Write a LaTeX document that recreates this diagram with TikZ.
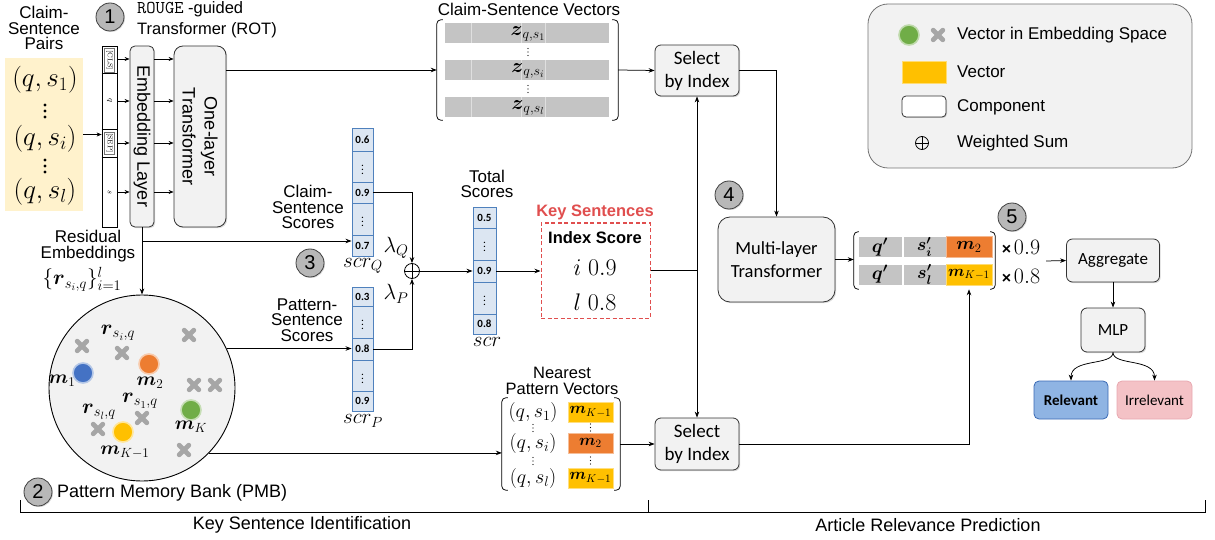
\RequirePackage{fix-cm}
\documentclass[tikz,border=0pt]{standalone}
\usepackage{amsmath}
\usepackage[no-math]{fontspec}
\setmainfont{Liberation Sans}
\newfontfamily\calib{Carlito}
\usetikzlibrary{arrows.meta,shadows}
\definecolor{compfill}{HTML}{F2F2F2}
\definecolor{pairfill}{HTML}{FFF2CC}
\definecolor{vecgray}{HTML}{C4C4C4}
\definecolor{scfill}{HTML}{DCE6F2}
\definecolor{scdraw}{HTML}{4F81BD}
\definecolor{mblue}{HTML}{4472C4}
\definecolor{morange}{HTML}{ED7D31}
\definecolor{mgreen}{HTML}{70AD47}
\definecolor{myellow}{HTML}{FFC000}
\definecolor{keyred}{HTML}{E04E4E}
\definecolor{relblue}{HTML}{8FB4E3}
\definecolor{relborder}{HTML}{3A6AB5}
\definecolor{irrfill}{HTML}{F4C2C6}
\definecolor{irrborder}{HTML}{E8A8B0}
\definecolor{crossgray}{HTML}{A6A6A6}
\newcommand{\fsz}[2]{\fontsize{#1}{#2}\selectfont}
\begin{document}
\begin{tikzpicture}[x=1pt,y=-1pt,
 comp/.style={draw=black!80, fill=compfill, rounded corners=6pt, line width=0.8pt, inner sep=0pt, drop shadow={shadow xshift=1.2pt, shadow yshift=-1.2pt, opacity=0.3}},
 arr/.style={-{Stealth[length=6pt,width=4.5pt]}, line width=0.75pt},
 sarr/.style={-{Stealth[length=5pt,width=4pt]}, line width=0.7pt},
 ln/.style={line width=0.75pt},
 lab/.style={font=\fsz{17}{15.5}, align=center, inner sep=0pt},
 cal/.style={font=\calib\fsz{19}{23}, align=center},
 sc/.style={draw=scdraw, fill=scfill, line width=0.9pt, minimum width=21pt, inner sep=0pt, font=\calib\bfseries\fsz{11}{11}},
 numc/.style={circle, draw=black!75, fill=black!28, line width=0.8pt, minimum size=28pt, inner sep=0pt, font=\fsz{20}{20}, drop shadow={shadow xshift=1pt, shadow yshift=-1pt, opacity=0.3}},
 embpt/.style={circle, minimum size=20pt, inner sep=0pt, line width=1.6pt},
 gcell/.style={fill=vecgray, draw=white, line width=0.6pt, inner sep=0pt, minimum height=21pt},
 brk/.style={line width=0.75pt, rounded corners=4pt},
 osumst/.style={circle, draw, line width=0.8pt, minimum size=15pt, inner sep=0pt, path picture={\draw[line width=0.8pt] (path picture bounding box.north) -- (path picture bounding box.south) (path picture bounding box.west) -- (path picture bounding box.east);}},
 xcross/.pic={\draw[crossgray, line width=4.8pt, line cap=round] (-4.8,-4.8) -- (4.8,4.8) (-4.8,4.8) -- (4.8,-4.8);},
 bigdots/.pic={\fill (0,-6) circle (1.7pt) (0,0) circle (1.7pt) (0,6) circle (1.7pt);},
 smalldots/.pic={\fill (0,-3.5) circle (0.65pt) (0,0) circle (0.65pt) (0,3.5) circle (0.65pt);},
 mlab/.style={inner sep=0pt, font=\fsz{21}{21}},
]
\useasboundingbox (0,0) rectangle (1215,540);

%% ---------- left input ----------
\node[lab] (cspairs) at (44,28) {Claim-\\Sentence\\Pairs};
\node[fill=pairfill, minimum width=78pt, minimum height=153pt, inner sep=0pt] (pairs) at (44,134.5) {};
\node[inner sep=0pt, font=\fsz{27}{27}] (p1) at (45,80) {$(q,s_1)$};
\pic at (45,111) {bigdots};
\node[inner sep=0pt, font=\fsz{27}{27}] (p2) at (45,139) {$(q,s_i)$};
\pic at (45,166) {bigdots};
\node[inner sep=0pt, font=\fsz{27}{27}] (p3) at (45,192) {$(q,s_l)$};

\node[draw, fill=white, line width=0.7pt, minimum width=15pt, minimum height=181pt, inner sep=0pt] (strip) at (109.5,136.5) {};
\draw[line width=0.6pt] (strip.west |- 0,73) -- (strip.east |- 0,73);
\draw[line width=0.6pt] (strip.west |- 0,129) -- (strip.east |- 0,129);
\draw[line width=0.6pt] (strip.west |- 0,157) -- (strip.east |- 0,157);
\node[draw=black!55, line width=0.4pt, minimum width=10pt, minimum height=24pt, inner sep=0pt] (clsb) at (109.5,60) {};
\node[rotate=-90, inner sep=0pt, font=\fsz{7}{7}] (clst) at (clsb) {$\mathrm{[CLS]}$};
\node[draw=black!55, line width=0.4pt, minimum width=10pt, minimum height=22pt, inner sep=0pt] (sepb) at (109.5,143) {};
\node[rotate=-90, inner sep=0pt, font=\fsz{7}{7}] (sept) at (sepb) {$\mathrm{[SEP]}$};
\node[rotate=-90, inner sep=0pt, font=\fsz{8}{8}] (qt) at (109.5,101) {$q$};
\node[rotate=-90, inner sep=0pt, font=\fsz{8}{8}] (st) at (109.5,192) {$s$};
\draw[sarr] (pairs.east) -- (pairs.east -| strip.west);

\node[comp, rounded corners=5pt, minimum width=24pt, minimum height=181pt] (emb) at (142,136.5) {};
\node[rotate=-90, lab, font=\fsz{18}{18}] (embt) at (emb) {Embedding Layer};
\node[comp, rounded corners=9pt, minimum width=52pt, minimum height=181pt] (ot) at (200,136.5) {};
\node[rotate=-90, lab, font=\fsz{18}{22}] (ott) at (ot) {One-layer\\Transformer};
\foreach \yy in {59,101,143,192} {
  \draw[sarr] (strip.east |- 0,\yy) -- (emb.west |- 0,\yy);
  \draw[sarr] (emb.east |- 0,\yy) -- (ot.west |- 0,\yy);
}

\node[numc] (n1) at (110,17) {1};
\node[anchor=west, align=left, inner sep=0pt, font=\fsz{16.5}{21}] (rot) at (137,19.5) {{\fsz{18}{21}\texttt{ROUGE}} -guided\\Transformer (ROT)};

%% ---------- claim-sentence vectors ----------
\node[lab] (csvt) at (529,9) {Claim-Sentence Vectors};
\node[minimum width=181pt, minimum height=100pt, inner sep=0pt] (csv) at (527.5,70) {};
\draw[brk] ([xshift=6pt]csv.north west) -- (csv.north west) -- (csv.south west) -- ([xshift=6pt]csv.south west);
\draw[brk] ([xshift=-6pt]csv.north east) -- (csv.north east) -- (csv.south east) -- ([xshift=-6pt]csv.south east);
\foreach \nm/\yc in {zb1/33, zb2/70.5, zb3/107} {
  \node[fill=vecgray, minimum width=164pt, minimum height=20pt, inner sep=0pt] (\nm) at (527,\yc) {};
  \foreach \xx in {471,521,545} \draw[white!75!gray, line width=0.8pt] (\xx,\yc-10) -- (\xx,\yc+10);
}
\node[mlab, font=\fsz{20}{20}] (zl1) at (528,34) {$\boldsymbol{z}_{q,s_1}$};
\node[mlab, font=\fsz{20}{20}] (zl2) at (528,71) {$\boldsymbol{z}_{q,s_i}$};
\node[mlab, font=\fsz{20}{20}] (zl3) at (528,107.5) {$\boldsymbol{z}_{q,s_l}$};
\pic at (528,52) {smalldots};
\pic at (528,89) {smalldots};
\draw[arr] (ot.east |- csv.west) -- (csv.west);

%% ---------- select by index ----------
\node[comp, minimum width=84pt, minimum height=51pt, cal] (sel1) at (697,70.5) {Select\\by Index};
\draw[arr] (csv.east) -- (sel1.west);
\node[comp, minimum width=84pt, minimum height=52pt, cal] (sel2) at (697,444) {Select\\by Index};

%% ---------- legend ----------
\node[draw=black!55, fill=compfill, rounded corners=20pt, line width=0.8pt, minimum width=324pt, minimum height=164pt] (leg) at (1030,86) {};
\node[embpt, fill=mgreen, draw=mgreen!45] (lg1) at (909,35) {};
\pic at (938,35) {xcross};
\node[lab, anchor=west] (lt1) at (957,35) {Vector in Embedding Space};
\node[fill=myellow, draw=myellow!55, line width=0.8pt, minimum width=44pt, minimum height=22pt, inner sep=0pt] (lg2) at (924,72) {};
\node[lab, anchor=west] (lt2) at (957,72) {Vector};
\node[draw=black!80, fill=white, rounded corners=4pt, line width=0.8pt, minimum width=44pt, minimum height=21pt, inner sep=0pt, drop shadow={shadow xshift=1pt, shadow yshift=-1pt, opacity=0.3}] (lg3) at (924,106.5) {};
\node[lab, anchor=west] (lt3) at (957,107) {Component};
\node[osumst, minimum size=13pt] (lg4) at (922,143) {};
\node[lab, anchor=west] (lt4) at (957,143) {Weighted Sum};

%% ---------- residual & PMB ----------
\node[lab] (res) at (88,246) {Residual\\Embeddings};
\node[mlab, font=\fsz{21}{21}] (rset) at (82,279) {$\{\boldsymbol{r}_{s_i,q}\}_{i=1}^{l}$};
\node[circle, draw, fill=compfill, line width=0.9pt, minimum size=186pt, inner sep=0pt] (pmb) at (142,388) {};
\draw[arr] (emb.south) -- (pmb.north);
\coordinate (rj) at (142,241);

\foreach \cx/\cy in {82/346, 122/353, 189/335, 194/385, 215/385, 98/429, 142/418, 184/450}
  \pic at (\cx,\cy) {xcross};
\node[embpt, fill=mblue, draw=mblue!40] (m1) at (83,373) {};
\node[embpt, fill=morange, draw=morange!40] (m2) at (149,364) {};
\node[embpt, fill=mgreen, draw=mgreen!40] (mK) at (191,410) {};
\node[embpt, fill=myellow, draw=myellow!40] (mK1) at (123,432) {};
\node[mlab, font=\fsz{19}{19}] (m1l) at (62,381) {$\boldsymbol{m}_1$};
\node[mlab, font=\fsz{19}{19}] (m2l) at (150,383) {$\boldsymbol{m}_2$};
\node[mlab, font=\fsz{19}{19}] (mKl) at (191,427) {$\boldsymbol{m}_K$};
\node[mlab, font=\fsz{19}{19}] (mK1l) at (125,452) {$\boldsymbol{m}_{K-1}$};
\node[mlab] (ril) at (118,333) {$\boldsymbol{r}_{s_i,q}$};
\node[mlab] (r1l) at (140,401) {$\boldsymbol{r}_{s_1,q}$};
\node[mlab] (rll) at (99,412) {$\boldsymbol{r}_{s_l,q}$};

\node[numc] (n2) at (38,492) {2};
\node[lab, anchor=west, font=\fsz{18}{18}] (pmbt) at (57,493) {Pattern Memory Bank (PMB)};

%% ---------- scores ----------
\node[lab] (cst) at (308,207) {Claim-\\Sentence\\Scores};
\node[lab] (pst) at (307,320) {Pattern-\\Sentence\\Scores};
\node[numc] (n3) at (310,263) {3};

\node[sc, minimum height=23pt] (q1) at (362.5,139.5) {0.6};
\node[sc, minimum height=31pt] (q2) at (362.5,166.5) {\fsz{9}{9}$\vdots$};
\node[sc, minimum height=21pt] (q3) at (362.5,192.5) {0.9};
\node[sc, minimum height=32pt] (q4) at (362.5,219) {\fsz{9}{9}$\vdots$};
\node[sc, minimum height=21pt] (q5) at (362.5,245.5) {0.7};
\node[mlab] (scq) at (363,266) {$scr_Q$};

\node[sc, minimum height=19pt] (r1) at (362.5,296.5) {0.3};
\node[sc, minimum height=32pt] (r2) at (362.5,322) {\fsz{9}{9}$\vdots$};
\node[sc, minimum height=22pt] (r3) at (362.5,349) {0.8};
\node[sc, minimum height=31pt] (r4) at (362.5,375.5) {\fsz{9}{9}$\vdots$};
\node[sc, minimum height=20pt] (r5) at (362.5,401) {0.9};
\node[mlab] (scp) at (363,421) {$scr_P$};

\draw[arr] (rj) -- (rj -| q5.west);
\draw[arr] (pmb.25.5) -- (pmb.25.5 -| r3.west);

\node[osumst] (osum) at (412,271) {};
\draw[arr] (q3.east) -| (osum.north);
\draw[arr] (r3.east) -| (osum.south);
\node[mlab, font=\fsz{22}{22}] (lq) at (396,248) {$\lambda_Q$};
\node[mlab, font=\fsz{22}{22}] (lp) at (396,294) {$\lambda_P$};

\node[lab] (tst) at (487,184) {Total\\Scores};
\node[sc, minimum width=23pt, minimum height=21pt] (t1) at (484.5,217.5) {0.5};
\node[sc, minimum width=23pt, minimum height=32pt] (t2) at (484.5,244) {\fsz{9}{9}$\vdots$};
\node[sc, minimum width=23pt, minimum height=22pt] (t3) at (484.5,271) {0.9};
\node[sc, minimum width=23pt, minimum height=32pt] (t4) at (484.5,298) {\fsz{9}{9}$\vdots$};
\node[sc, minimum width=23pt, minimum height=20pt] (t5) at (484.5,324) {0.8};
\node[mlab] (sct) at (487,342) {$scr$};
\draw[arr] (osum.east) -- (osum.east -| t3.west);

%% ---------- key sentences ----------
\node[draw=keyred, dash pattern=on 4pt off 2.5pt, line width=1pt, minimum width=109pt, minimum height=95pt, inner sep=0pt] (ks) at (595.5,270.5) {};
\node[inner sep=0pt, text=keyred, font=\bfseries\fsz{16.5}{16.5}] (kst) at (595,212) {Key Sentences};
\node[inner sep=0pt, font=\bfseries\fsz{16.5}{16.5}] (kis) at (595,238) {Index Score};
\node[inner sep=0pt, font=\fsz{24}{24}] (ki1) at (595,268) {$i\;0.9$};
\node[inner sep=0pt, font=\fsz{24}{24}] (ki2) at (595,302) {$l\;0.8$};
\draw[arr] (t3.east) -- (t3.east -| ks.west);
\coordinate (jn) at (697,270.5);
\draw[ln] (ks.east |- jn) -- (jn);
\draw[arr] (jn) -- (sel1.south);
\draw[arr] (jn) -- (sel2.north);

%% ---------- nearest pattern vectors ----------
\node[lab, font=\fsz{16.5}{16}] (npvt) at (562,381) {Nearest\\Pattern Vectors};
\node[minimum width=118pt, minimum height=92pt, inner sep=0pt] (npv) at (561,444) {};
\draw[brk] ([xshift=6pt]npv.north west) -- (npv.north west) -- (npv.south west) -- ([xshift=6pt]npv.south west);
\draw[brk] ([xshift=-6pt]npv.north east) -- (npv.north east) -- (npv.south east) -- ([xshift=-6pt]npv.south east);
\node[inner sep=0pt, font=\fsz{20}{20}] (np1) at (533,412) {$(q,s_1)$};
\node[inner sep=0pt, font=\fsz{20}{20}] (np2) at (533,443) {$(q,s_i)$};
\node[inner sep=0pt, font=\fsz{20}{20}] (np3) at (533,478) {$(q,s_l)$};
\pic at (533,428) {smalldots};
\pic at (533,461) {smalldots};
\node[fill=myellow, draw=myellow!50, line width=0.8pt, minimum width=45pt, minimum height=20pt, inner sep=0pt, font=\fsz{16}{16}] (nk1) at (590.5,412) {$\boldsymbol{m}_{K-1}$};
\node[fill=morange, draw=morange!50, line width=0.8pt, minimum width=45pt, minimum height=20pt, inner sep=0pt, font=\fsz{16}{16}] (nk2) at (590.5,443) {$\boldsymbol{m}_{2}$};
\node[fill=myellow, draw=myellow!50, line width=0.8pt, minimum width=45pt, minimum height=20pt, inner sep=0pt, font=\fsz{16}{16}] (nk3) at (590.5,478) {$\boldsymbol{m}_{K-1}$};
\pic at (590.5,427.5) {smalldots};
\pic at (590.5,460.5) {smalldots};
\draw[arr] (pmb.-44.3) -- (pmb.-44.3 -| npv.west);
\draw[arr] (npv.east) -- (npv.east -| sel2.west);

%% ---------- multi-layer transformer & matrix ----------
\node[numc] (n4) at (729,195) {4};
\node[comp, rounded corners=12pt, minimum width=117pt, minimum height=85pt, font=\calib\fsz{18.5}{23}, align=center] (mlt) at (776.5,259.5) {Multi-layer\\Transformer};
\draw[arr] (sel1.east) -| (mlt.north);

\node[minimum width=141pt, minimum height=57pt, inner sep=0pt] (mat) at (924.5,260.5) {};
\draw[brk] ([xshift=5pt]mat.north west) -- (mat.north west) -- (mat.south west) -- ([xshift=5pt]mat.south west);
\draw[brk] ([xshift=-5pt]mat.north east) -- (mat.north east) -- (mat.south east) -- ([xshift=-5pt]mat.south east);
\node[gcell, minimum width=44pt, font=\fsz{19}{19}] (a1) at (880,247) {$\boldsymbol{q'}$};
\node[gcell, minimum width=43pt, font=\fsz{18}{18}] (b1) at (924.5,247) {$\boldsymbol{s'_i}$};
\node[gcell, minimum width=46pt, fill=morange, draw=morange!55, font=\fsz{18}{18}] (c1) at (969,247) {$\boldsymbol{m}_2$};
\node[gcell, minimum width=44pt, font=\fsz{19}{19}] (a2) at (880,274.5) {$\boldsymbol{q'}$};
\node[gcell, minimum width=43pt, font=\fsz{18}{18}] (b2) at (924.5,274.5) {$\boldsymbol{s'_l}$};
\node[gcell, minimum width=46pt, fill=myellow, draw=myellow!55, font=\fsz{16}{16}] (c2) at (969,274.5) {$\boldsymbol{m}_{K-1}$};
\draw[arr] (mlt.east) -- (mlt.east -| mat.west);
\draw[arr, shorten >=4pt] (sel2.east) -| (c2.south);
\node[inner sep=0pt, font=\fsz{16}{16}] (w1) at (1021,247) {{\bfseries ×}\,{\fsz{22}{22}$0.9$}};
\node[inner sep=0pt, font=\fsz{16}{16}] (w2) at (1021,276) {{\bfseries ×}\,{\fsz{22}{22}$0.8$}};
\node[numc] (n5) at (1012,217) {5};

%% ---------- aggregate & MLP ----------
\coordinate (mx) at (1046,261);
\node[comp, minimum width=93pt, minimum height=43pt, font=\calib\fsz{17}{17}] (agg) at (1113,260.5) {Aggregate};
\node[comp, minimum width=64pt, minimum height=44pt, font=\calib\fsz{17}{17}] (mlp) at (1113,330) {MLP};
\draw[arr] (mx) -- (agg.west);
\draw[arr] (agg.south) -- (mlp.north);
\node[fill=relblue, draw=relborder, rounded corners=5pt, line width=0.8pt, minimum width=74pt, minimum height=38pt, inner sep=0pt, font=\calib\bfseries\fsz{15}{15}] (rel) at (1071,400) {Relevant};
\node[fill=irrfill, draw=irrborder, rounded corners=5pt, line width=0.8pt, minimum width=75pt, minimum height=38pt, inner sep=0pt, font=\calib\fsz{15}{15}] (irr) at (1154.5,400) {Irrelevant};
\draw[arr] (mlp.south) .. controls (1113,366) and (1071,358) .. (rel.north);
\draw[arr] (mlp.south) .. controls (1113,366) and (1154.5,358) .. (irr.north);

%% ---------- bottom brace ----------
\draw[ln] (20,500) -- (20,512) -- (1205,512) -- (1205,500);
\draw[ln] (648,512) -- (648,500);
\node[lab, font=\fsz{18}{18}] (ksi) at (302,525) {Key Sentence Identification};
\node[lab, font=\fsz{18}{18}] (arp) at (928,525) {Article Relevance Prediction};
\end{tikzpicture}
\end{document}
